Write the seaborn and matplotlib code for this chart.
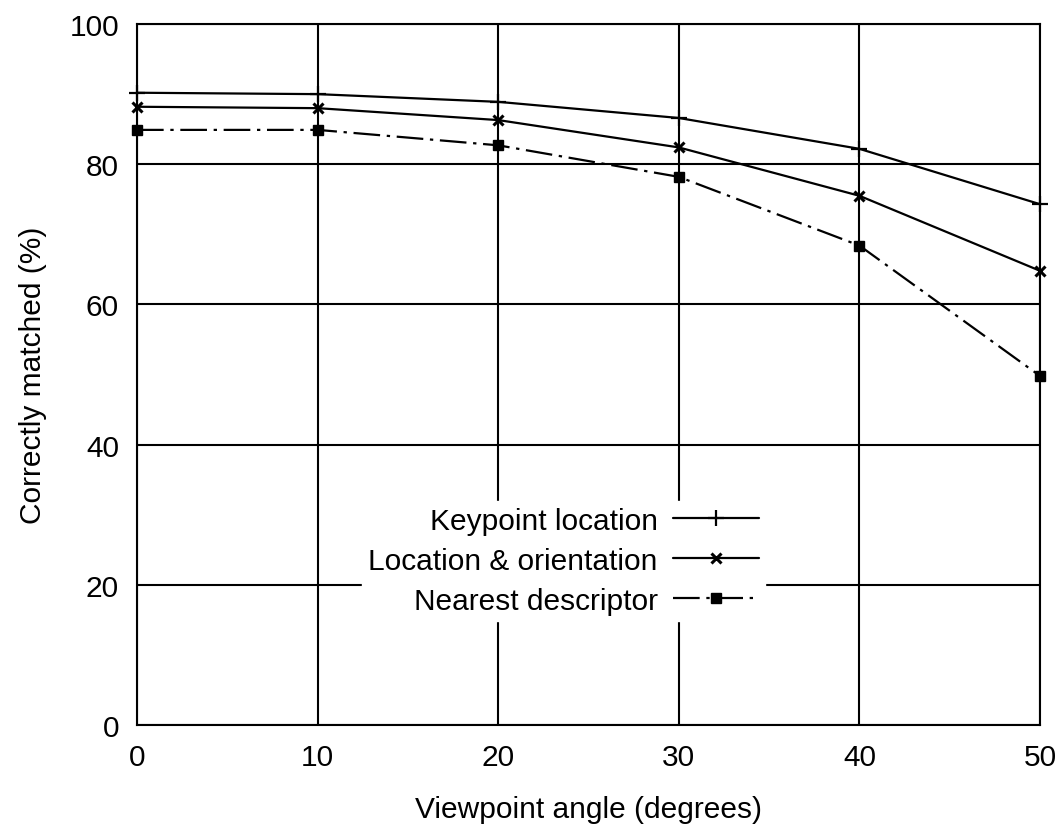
import matplotlib
matplotlib.use("Agg")
import matplotlib.pyplot as plt
import seaborn as sns
import pandas as pd

angles = [0, 10, 20, 30, 40, 50]
keypoint_location = [90.2, 90.0, 88.9, 86.6, 82.2, 74.3]
location_orientation = [88.2, 88.0, 86.3, 82.4, 75.5, 64.8]
nearest_descriptor = [84.9, 84.9, 82.7, 78.2, 68.4, 49.8]
series_names = ["Keypoint location", "Location & orientation", "Nearest descriptor"]
x_ticks = [0, 10, 20, 30, 40, 50]
y_ticks = [0, 20, 40, 60, 80, 100]

sns.set_theme(style="white")
plt.rcParams["font.family"] = ["Liberation Sans", "DejaVu Sans"]
plt.rcParams["text.color"] = "black"
plt.rcParams["axes.labelcolor"] = "black"
fs = 21.5

fig = plt.figure(figsize=(10.57, 8.29), dpi=100)
ax = fig.add_axes([0.1296, 0.1242, 0.9839 - 0.1296, 0.9698 - 0.1242])

df = pd.DataFrame({
    "angle": angles * 3,
    "value": keypoint_location + location_orientation + nearest_descriptor,
    "series": [series_names[0]] * 6 + [series_names[1]] * 6 + [series_names[2]] * 6,
})

styles = {
    series_names[0]: dict(ls="-", marker="+", ms=11, mew=1.6),
    series_names[1]: dict(ls="-", marker="x", ms=7, mew=2.2),
    series_names[2]: dict(ls=(0, (12, 3, 1.5, 3)), marker="s", ms=7, mew=1),
}
for name in series_names:
    sub = df[df["series"] == name]
    st = styles[name]
    sns.lineplot(data=sub, x="angle", y="value", ax=ax, color="black", lw=1.6,
                 linestyle=st["ls"], marker=st["marker"], markersize=st["ms"],
                 markeredgewidth=st["mew"], markeredgecolor="black",
                 markerfacecolor="black", label=name, zorder=3, clip_on=False)

ax.set_xlim(0, 50)
ax.set_ylim(0, 100)
ax.set_xticks(x_ticks)
ax.set_yticks(y_ticks)
ax.set_xticklabels([str(t) for t in x_ticks], fontsize=fs)
ax.set_yticklabels([str(t) for t in y_ticks], fontsize=fs)
ax.tick_params(axis="x", length=0, pad=13, colors="black")
ax.tick_params(axis="y", length=0, pad=13, colors="black")
ax.grid(True, color="black", lw=1.5)
ax.set_axisbelow(True)
for sp in ax.spines.values():
    sp.set_color("black")
    sp.set_linewidth(1.5)

ax.set_xlabel("Viewpoint angle (degrees)", fontsize=fs, color="black", labelpad=17)
ax.set_ylabel("Correctly matched (%)", fontsize=fs, color="black", labelpad=16)

leg = ax.legend(loc="upper left", bbox_to_anchor=(0.233, 0.341), markerfirst=False,
                frameon=True, fancybox=False, fontsize=fs, handlelength=2.9,
                labelspacing=0.4, borderpad=0.2, handletextpad=0.5)
leg.get_frame().set_edgecolor("white")
leg.get_frame().set_facecolor("white")
leg.get_frame().set_alpha(1)
for t in leg.get_texts():
    t.set_color("black")
leg._legend_box.align = "right"

fig.savefig("out.png", dpi=100)
